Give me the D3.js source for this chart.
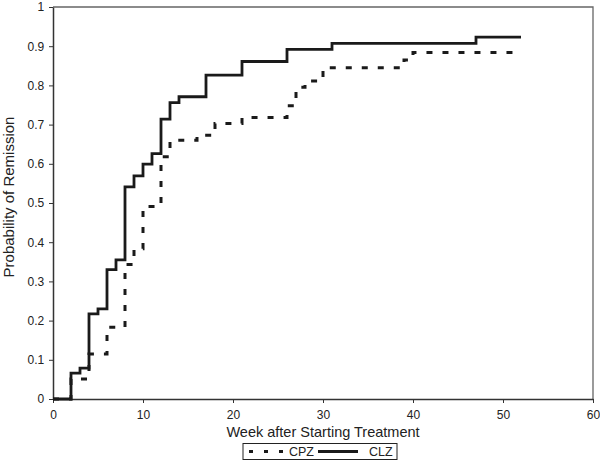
<!DOCTYPE html>
<html>
<head>
<meta charset="utf-8">
<script src="https://cdn.jsdelivr.net/npm/d3@7"></script>
<style>
  html, body { margin: 0; padding: 0; background: #fff; }
  svg { display: block; }
  text { font-family: "Liberation Sans", Arial, sans-serif; fill: #222; }
</style>
</head>
<body>
<svg id="chart" width="600" height="463"></svg>
<script>
// ---- data ----
const clzWeeks  = [0, 2, 3, 4, 5, 6, 7, 8, 9, 10, 11, 12, 13, 14, 17, 21, 26, 31, 47, 52];
const clzValues = [0, 0.066, 0.079, 0.217, 0.230, 0.330, 0.355, 0.541, 0.569, 0.599, 0.626, 0.714, 0.756, 0.771, 0.826, 0.861, 0.892, 0.907, 0.923, 0.923];
const cpzWeeks  = [0, 2, 4, 6, 8, 9, 10, 12, 13, 16, 18, 21, 26, 27, 28, 30, 39, 40, 52];
const cpzValues = [0, 0.051, 0.115, 0.183, 0.343, 0.383, 0.491, 0.618, 0.660, 0.673, 0.703, 0.718, 0.748, 0.795, 0.811, 0.845, 0.865, 0.884, 0.884];
const xTicks = [0, 10, 20, 30, 40, 50, 60];
const yTicks = [0, 0.1, 0.2, 0.3, 0.4, 0.5, 0.6, 0.7, 0.8, 0.9, 1];
const seriesNames = ["CPZ", "CLZ"];
const xTitle = "Week after Starting Treatment";
const yTitle = "Probability of Remission";

// ---- layout ----
const svg = d3.select("#chart");
const pL = 53, pR = 593, pT = 7, pB = 399;
const x = d3.scaleLinear().domain([0, 60]).range([pL, pR]);
const y = d3.scaleLinear().domain([0, 1]).range([pB, pT]);

// plot frame (top and right)
svg.append("path")
  .attr("d", `M${pL},${pT}H${pR}V${pB}`)
  .attr("fill", "none").attr("stroke", "#666").attr("stroke-width", 1.3);

// axes
const xAxis = svg.append("g").attr("transform", `translate(0,${pB})`)
  .call(d3.axisBottom(x).tickValues(xTicks).tickSize(4).tickSizeOuter(0).tickFormat(d3.format("d")));
const yAxis = svg.append("g").attr("transform", `translate(${pL},0)`)
  .call(d3.axisLeft(y).tickValues(yTicks).tickSize(4).tickSizeOuter(0).tickFormat(d => d === 0 || d === 1 ? String(d) : d3.format(".1f")(d)));
[xAxis, yAxis].forEach(g => {
  g.select(".domain").attr("stroke", "#333").attr("stroke-width", 1.5);
  g.selectAll(".tick line").attr("stroke", "#333").attr("stroke-width", 1);
  g.selectAll(".tick text").attr("font-size", 12).attr("fill", "#222")
    .attr("font-family", '"Liberation Sans", Arial, sans-serif');
});
xAxis.selectAll(".tick text").attr("dy", "1.05em");
yAxis.selectAll(".tick text").attr("dx", "-0.15em");

// titles
svg.append("text").attr("x", (pL + pR) / 2).attr("y", 437)
  .attr("text-anchor", "middle").attr("font-size", 14.5).text(xTitle);
svg.append("text").attr("transform", `translate(14,${(pT + pB) / 2 - 6}) rotate(-90)`)
  .attr("text-anchor", "middle").attr("font-size", 15).text(yTitle);

// lines
const line = d3.line().x(d => x(d[0])).y(d => y(d[1])).curve(d3.curveStepAfter);
const cpz = cpzWeeks.map((w, i) => [w, cpzValues[i]]);
const clz = clzWeeks.map((w, i) => [w, clzValues[i]]);

svg.append("path").datum(cpz).attr("d", line)
  .attr("fill", "none").attr("stroke", "#1a1a1a").attr("stroke-width", 3)
  .attr("stroke-dasharray", "6,10");
svg.append("path").datum(clz).attr("d", line)
  .attr("fill", "none").attr("stroke", "#1a1a1a").attr("stroke-width", 2.8);

// legend
const lg = svg.append("g");
lg.append("rect").attr("x", 243).attr("y", 443.5).attr("width", 154).attr("height", 16)
  .attr("fill", "#fff").attr("stroke", "#222").attr("stroke-width", 1);
lg.append("line").attr("x1", 249).attr("x2", 289).attr("y1", 451.5).attr("y2", 451.5)
  .attr("stroke", "#1a1a1a").attr("stroke-width", 3).attr("stroke-dasharray", "4,11");
lg.append("text").attr("x", 289).attr("y", 456).attr("font-size", 12.5).text(seriesNames[0]);
lg.append("line").attr("x1", 318).attr("x2", 358).attr("y1", 451.5).attr("y2", 451.5)
  .attr("stroke", "#1a1a1a").attr("stroke-width", 3);
lg.append("text").attr("x", 369).attr("y", 456).attr("font-size", 12.5).text(seriesNames[1]);
</script>
</body>
</html>
